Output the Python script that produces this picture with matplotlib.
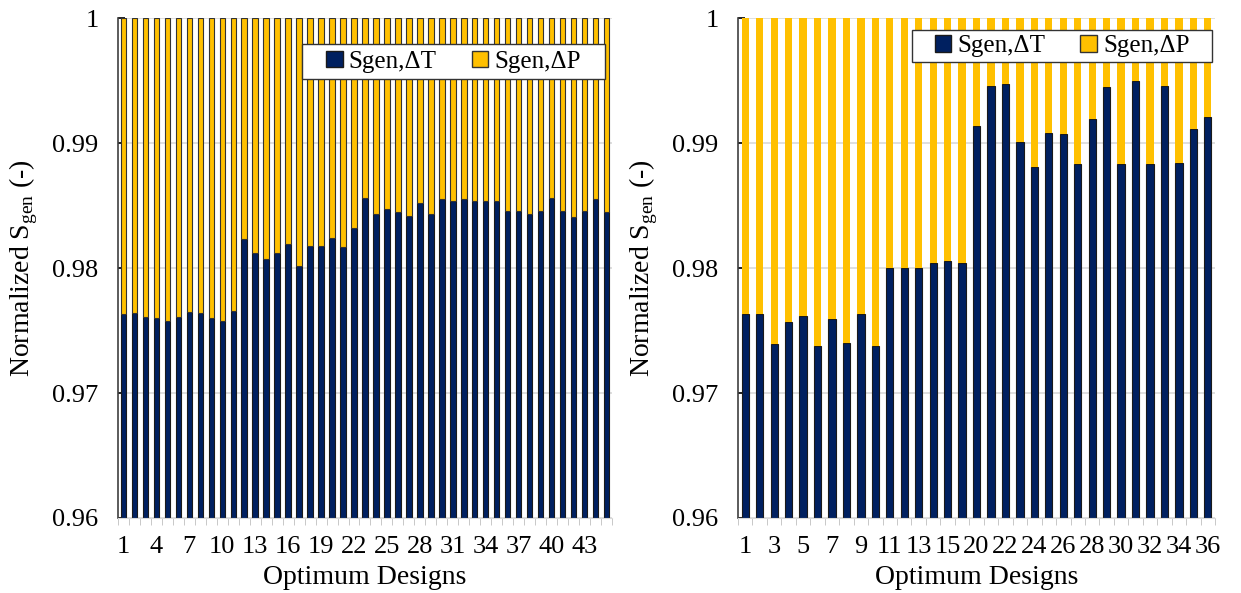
import matplotlib
matplotlib.use('Agg')
import matplotlib.pyplot as plt
from matplotlib.patches import Patch, Rectangle
import numpy as np

plt.rcParams['font.family'] = ['Liberation Serif', 'DejaVu Serif']
plt.rcParams['mathtext.fontset'] = 'custom'
plt.rcParams['mathtext.rm'] = 'Liberation Serif'

NAVY = '#002060'
GOLD = '#FFC000'

# left chart: designs 1..45
left_designs = list(range(1, 46))
left_dT = [0.9763, 0.9764, 0.9761, 0.9760, 0.9758, 0.9761, 0.9765, 0.9764, 0.9760, 0.9758,
           0.9766, 0.9823, 0.9812, 0.9807, 0.9812, 0.9819, 0.9802, 0.9818, 0.9818, 0.9824,
           0.9817, 0.9832, 0.9856, 0.9843, 0.9847, 0.9845, 0.9842, 0.9852, 0.9843, 0.9855,
           0.9854, 0.9855, 0.9854, 0.9854, 0.9854, 0.9846, 0.9846, 0.9843, 0.9846, 0.9856,
           0.9846, 0.9841, 0.9846, 0.9855, 0.9845]

# right chart: designs 1..16 and 20..36
right_designs = list(range(1, 17)) + list(range(20, 37))
right_dT = [0.9763, 0.9763, 0.9739, 0.9757, 0.9762, 0.9738, 0.9759, 0.9740, 0.9763, 0.9738,
            0.9800, 0.9800, 0.9800, 0.9804, 0.9806, 0.9804,
            0.9914, 0.9946, 0.9947, 0.9901, 0.9881, 0.9908, 0.9907, 0.9883, 0.9919, 0.9945,
            0.9883, 0.9950, 0.9883, 0.9946, 0.9884, 0.9911, 0.9921]

fig = plt.figure(figsize=(12.41, 5.93), dpi=100)
ax1 = fig.add_axes([0.0951, 0.1265, 0.398, 0.843])
ax2 = fig.add_axes([0.5947, 0.1265, 0.3844, 0.843])


def draw(ax, designs, dT, step, yellow_edge, box, ylab_x):
    x = np.arange(len(designs))
    dP = [1 - v for v in dT]
    ax.bar(x, dT, width=0.5, color=NAVY, edgecolor='#1a1a1a', linewidth=0.8, zorder=2)
    if yellow_edge:
        ax.bar(x, dP, bottom=dT, width=0.5, color=GOLD, edgecolor='#333333', linewidth=0.8, zorder=2)
    else:
        ax.bar(x, dP, bottom=dT, width=0.5, color=GOLD, linewidth=0, zorder=2)

    ax.set_ylim(0.96, 1.0)
    ax.set_xlim(-0.5, len(designs) - 0.5)
    ax.set_yticks([0.96, 0.97, 0.98, 0.99, 1.0])
    ax.set_yticklabels(['0.96', '0.97', '0.98', '0.99', '1'])
    ax.yaxis.grid(True, color='#d9d9d9', linewidth=1.2, zorder=0)
    ax.set_axisbelow(True)

    ax.set_xticks(x[::step])
    ax.set_xticklabels([str(d) for d in designs[::step]])
    ax.set_xticks(np.arange(-0.5, len(designs)), minor=True)
    ax.tick_params(axis='x', which='major', length=0, pad=13, labelsize=19)
    ax.tick_params(axis='x', which='minor', length=5, color='#bfbfbf')
    ax.tick_params(axis='y', direction='in', length=5, width=1.2, labelsize=19, pad=14)

    for s in ['top', 'right']:
        ax.spines[s].set_visible(False)
    ax.spines['bottom'].set_color('#d9d9d9')
    ax.spines['left'].set_color('#404040')
    ax.spines['left'].set_linewidth(1.2)

    ax.set_xlabel('Optimum Designs', fontsize=20)
    ax.xaxis.set_label_coords(0.5, -0.095)
    ax.set_ylabel(r'Normalized S$_\mathregular{gen}$ (-)', fontsize=20)
    ax.yaxis.set_label_coords(ylab_x, 0.5)

    # legend box (white frame over the bars)
    x0, y0, x1, y1 = box
    ax.add_patch(Rectangle((x0, y0), x1 - x0, y1 - y0, transform=ax.transAxes,
                           facecolor='white', edgecolor='#333333', linewidth=1.0,
                           zorder=5, clip_on=False))
    handles = [Patch(facecolor=NAVY, edgecolor='#1a1a1a', label='Sgen,ΔT'),
               Patch(facecolor=GOLD, edgecolor='#333333', label='Sgen,ΔP')]
    leg = ax.legend(handles=handles, loc='center',
                    bbox_to_anchor=((x0 + x1) / 2, (y0 + y1) / 2),
                    ncol=2, fontsize=18, frameon=False,
                    handlelength=0.65, handleheight=0.65, handletextpad=0.25,
                    columnspacing=1.4, borderpad=0, borderaxespad=0)
    leg.set_zorder(6)


draw(ax1, left_designs, left_dT, 3, True, (0.3725, 0.878, 0.986, 0.948), -0.158)
draw(ax2, right_designs, right_dT, 2, False, (0.365, 0.912, 0.994, 0.976), -0.164)

plt.savefig('out.png', dpi=100)
